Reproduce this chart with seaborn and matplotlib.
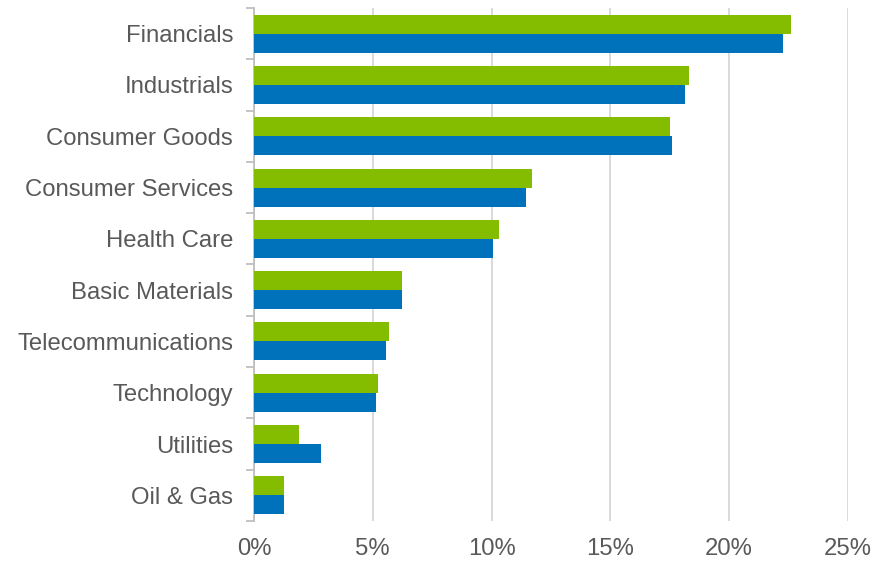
import matplotlib
matplotlib.use("Agg")
import matplotlib.pyplot as plt
import seaborn as sns
import pandas as pd
import numpy as np
from matplotlib.ticker import FuncFormatter, FixedLocator

# Sector weights (%)
sectors = ["Financials", "Industrials", "Consumer Goods", "Consumer Services",
           "Health Care", "Basic Materials", "Telecommunications", "Technology",
           "Utilities", "Oil & Gas"]
series_names = ["Series 1", "Series 2"]
series_1 = [22.6, 18.3, 17.5, 11.7, 10.3, 6.25, 5.7, 5.2, 1.9, 1.25]
series_2 = [22.25, 18.15, 17.6, 11.45, 10.05, 6.25, 5.55, 5.15, 2.8, 1.25]
colors = ["#84BD00", "#0072BC"]
x_ticks = [0, 5, 10, 15, 20, 25]

df = pd.DataFrame({
    "sector": sectors * 2,
    "series": [series_names[0]] * len(sectors) + [series_names[1]] * len(sectors),
    "weight": series_1 + series_2,
})

sns.set_style("white")
plt.rcParams["font.family"] = ["Liberation Sans", "DejaVu Sans"]

fig = plt.figure(figsize=(8.75, 5.62), dpi=100)
ax = fig.add_axes([0.2903, 0.073, 0.969 - 0.2903, 0.9858 - 0.073])

sns.barplot(data=df, y="sector", x="weight", hue="series", order=sectors,
            hue_order=series_names, palette=colors, width=0.74, dodge=True,
            orient="h", saturation=1, legend=False, linewidth=0, ax=ax, zorder=3)

ax.set_xlim(0, 25)
ax.set_ylim(len(sectors) - 0.5, -0.5)
ax.xaxis.set_major_locator(FixedLocator(x_ticks))
ax.xaxis.set_major_formatter(FuncFormatter(lambda v, p: f"{v:.0f}%"))
ax.grid(axis="x", color="#d9d9d9", linewidth=1.4, zorder=0)
ax.set_axisbelow(True)

for s in ["top", "right", "bottom"]:
    ax.spines[s].set_visible(False)
ax.spines["left"].set_color("#bfbfbf")
ax.spines["left"].set_linewidth(1.3)

# tick marks sit between categories
ax.yaxis.set_minor_locator(FixedLocator(np.arange(-0.5, len(sectors), 1.0)))
ax.tick_params(axis="y", which="minor", length=5.5, width=1.3, color="#bfbfbf", left=True)
ax.tick_params(axis="y", which="major", length=0, pad=15, labelsize=17.2, labelcolor="#595959")
ax.tick_params(axis="x", which="major", length=0, pad=12, labelsize=17.2, labelcolor="#595959")

ax.set_xlabel("")
ax.set_ylabel("")

fig.savefig("out.png", dpi=100)
